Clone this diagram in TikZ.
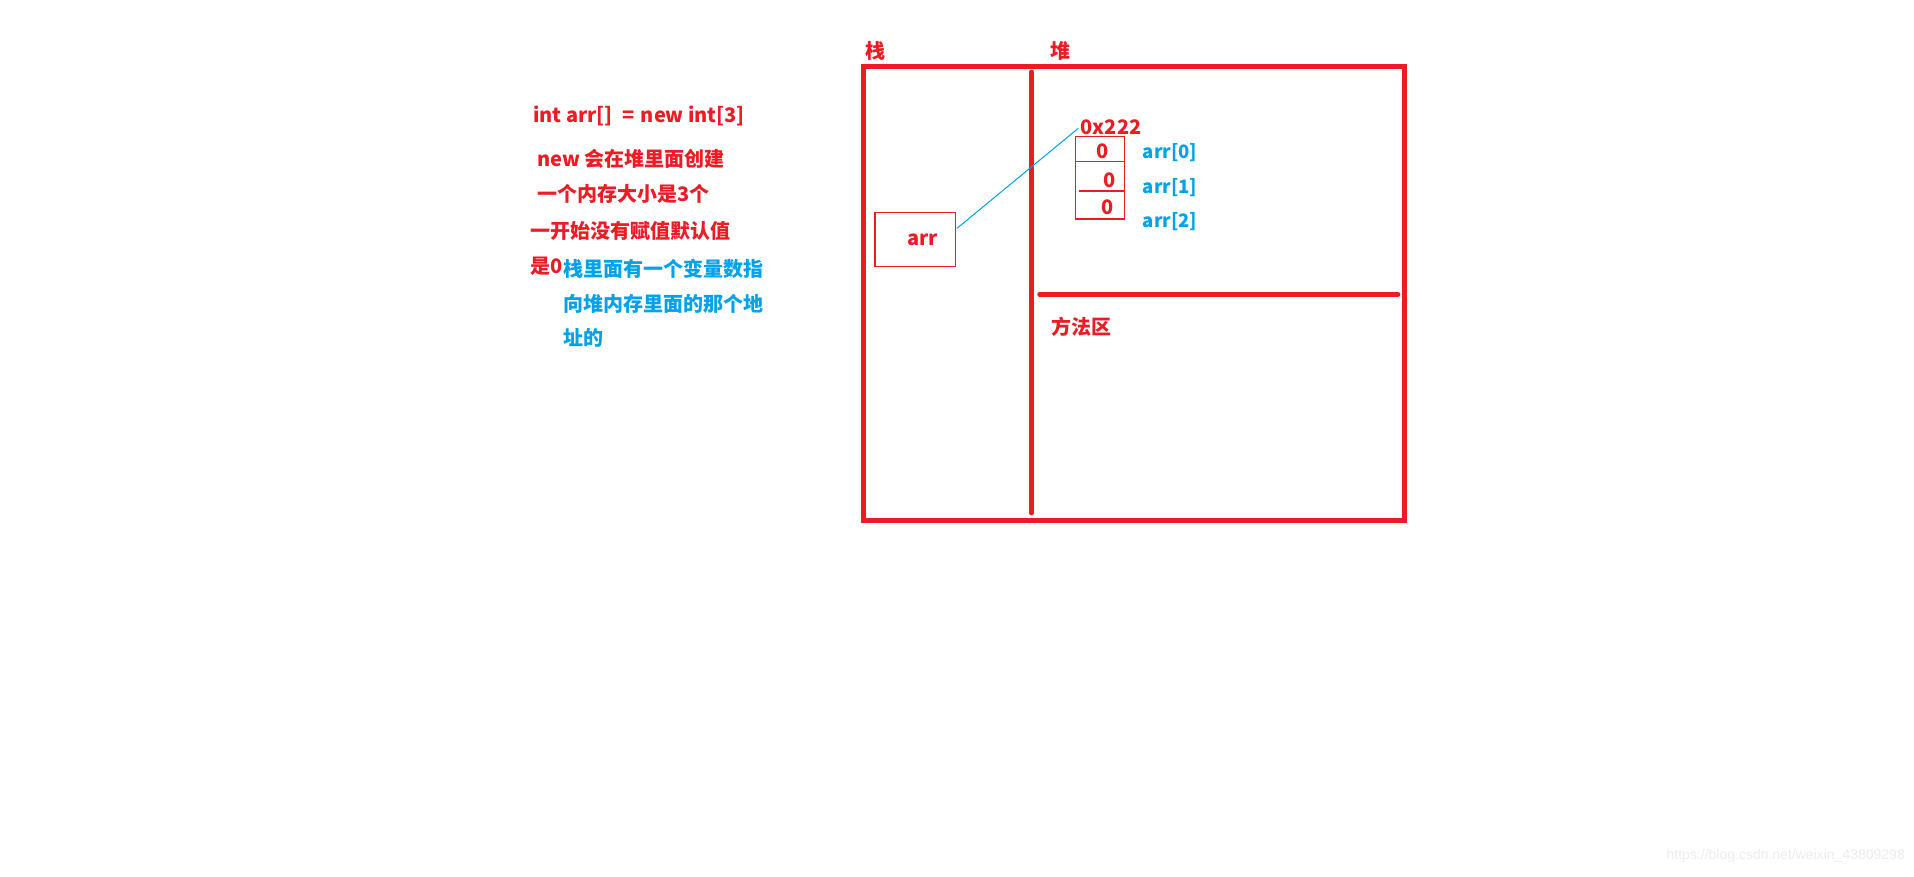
\documentclass[tikz,border=0pt]{standalone}
\usepackage{fontspec}
\setmainfont{Noto Sans CJK SC}
\newfontfamily\wmfont{Liberation Sans}
\definecolor{pred}{HTML}{ED1C24}
\definecolor{pblue}{HTML}{00A2E8}
\begin{document}
\begin{tikzpicture}[x=1pt,y=-1pt,
  txt/.style={inner sep=0pt,font=\fontsize{20}{24}\selectfont\bfseries},
  rtxt/.style={txt,text=pred},
  btxt/.style={txt,text=pblue},
  thick line/.style={draw=pred,line width=5pt},
  thin box/.style={draw=pred,line width=1.3pt,inner sep=0pt}]
\useasboundingbox[fill=white] (0,0) rectangle (1914,876);
% left notes
\node[rtxt,anchor=west] (code) at (533,116) {int arr[] \ = \hspace{2pt}new int[3]};
\node[rtxt,anchor=west] (n1) at (537,159) {new 会在堆里面创建};
\node[rtxt,anchor=west] (n2) at (537,194) {一个内存大小是3个};
\node[rtxt,anchor=west] (n3) at (530,231) {一开始没有赋值默认值};
\node[rtxt,anchor=west] (n4) at (530,266) {是0};
\node[btxt,anchor=west] (b1) at (563,269) {栈里面有一个变量数指};
\node[btxt,anchor=west] (b2) at (563,304) {向堆内存里面的那个地};
\node[btxt,anchor=west] (b3) at (563,338) {址的};
% memory frame
\draw[thick line] (863.5,66.6) rectangle (1404.4,520.2);
\draw[thick line,line width=4.7pt,line cap=round] (1031.5,72) -- (1031.5,513);
\draw[thick line,line width=4.5pt,line cap=round] (1039.5,294.4) -- (1398,294.4);
\node[rtxt] (stack) at (875.5,51) {栈};
\node[rtxt] (heap) at (1060,51) {堆};
\node[rtxt] (method) at (1081.3,327) {方法区};
% stack variable
\node[thin box,minimum width=80.7pt,minimum height=54pt] (arrbox) at (915.3,239.3) {};
\node[rtxt] (arrtxt) at (922.5,240) {arr};
% heap array
\node[thin box,minimum width=49pt,minimum height=82.3pt] (mem) at (1099.8,177.8) {};
\draw[pred,line width=1.3pt] (mem.west |- 0,161.3) -- (mem.east |- 0,161.3);
\draw[pred,line width=1.3pt] (1079,191) -- (mem.east |- 0,191);
\node[rtxt] (z0) at (1103,151.5) {0};
\node[rtxt] (z1) at (1109.8,180.3) {0};
\node[rtxt] (z2) at (1108,207.5) {0};
\node[rtxt,anchor=west] (addr) at (1080.5,127) {0x222};
\node[btxt,anchor=west,font=\fontsize{18.5}{22}\selectfont\bfseries] (a0) at (1142.7,152.5) {arr[0]};
\node[btxt,anchor=west,font=\fontsize{18.5}{22}\selectfont\bfseries] (a1) at (1142.7,187.2) {arr[1]};
\node[btxt,anchor=west,font=\fontsize{18.5}{22}\selectfont\bfseries] (a2) at (1142.7,221.5) {arr[2]};
% pointer
\coordinate (pstart) at (957,228.3);
\coordinate (pend) at (1078.3,128.3);
\draw[pblue,line width=1pt] (pstart) -- (pend);
% watermark
\node[inner sep=0pt,anchor=east,text=black!7,font=\wmfont\fontsize{14}{16}\selectfont] (wm) at (1905,856) {https://blog.csdn.net/weixin\_43809298};
\end{tikzpicture}
\end{document}
